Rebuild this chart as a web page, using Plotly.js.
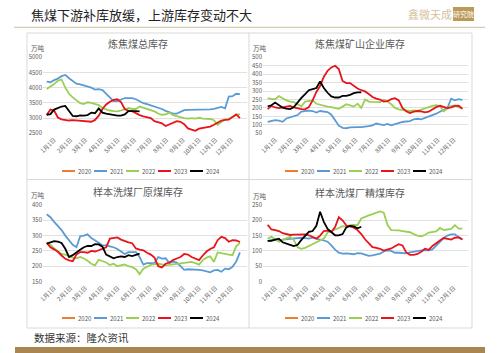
<!DOCTYPE html>
<html><head><meta charset="utf-8">
<script src="https://cdn.plot.ly/plotly-3.0.1.min.js"></script>
<style>html,body{margin:0;padding:0;background:#fff;}#chart{width:499px;height:353px;}</style>
</head><body><div id="chart"></div>
<script>
// ---------- data ----------
const years = ["2020", "2021", "2022", "2023", "2024"];
const yearColors = ["#ED7D31", "#5B9BD5", "#9BCF53", "#E8131B", "#000000"];
const monthLabels = ["1月1日","2月1日","3月1日","4月1日","5月1日","6月1日","7月1日","8月1日","9月1日","10月1日","11月1日","12月1日"];
const monthWeeks = [0, 4.43, 8.43, 12.86, 17.14, 21.57, 25.86, 30.29, 34.71, 39, 43.43, 47.71];
const chartTitles = ["炼焦煤总库存", "炼焦煤矿山企业库存", "样本洗煤厂原煤库存", "样本洗煤厂精煤库存"];
const unitLabel = "万吨";
const pageTitle = "焦煤下游补库放缓，上游库存变动不大";
const sourceText = "数据来源：隆众资讯";
const logoText = "鑫微天成";
const logoBoxText = "研究院";

// 炼焦煤总库存 (weekly)
const total2020 = [];
const total2021 = [4200,4180,4250,4300,4380,4420,4310,4230,4130,4110,4080,4040,4000,3940,3950,3920,3800,3650,3560,3560,3600,3660,3660,3660,3620,3560,3490,3460,3420,3380,3350,3300,3240,3190,3150,3150,3200,3260,3270,3270,3280,3290,3280,3280,3290,3300,3340,3370,3320,3710,3720,3800,3790];
const total2022 = [3960,4040,4120,4230,4270,4000,3800,3680,3580,3490,3460,3520,3500,3470,3430,3330,3280,3250,3230,3220,3250,3300,3330,3300,3300,3380,3340,3310,3270,3220,3150,3110,3120,3180,3100,3060,3020,3000,2980,3000,2980,3010,2980,2980,2970,2930,2780,2870,2950,2980,3050,3100,3130];
const total2023 = [3100,3280,3250,3020,2960,2940,2920,2930,2920,2920,2910,2890,2880,2940,3080,3300,3450,3540,3600,3620,3530,3300,3240,3230,3160,3100,3060,3040,3000,2900,2860,2830,2740,2800,2850,2900,2880,2800,2660,2610,2580,2650,2680,2700,2720,2780,2850,2920,2940,2950,3040,3120,3000];
const total2024 = [3110,3130,3280,3330,3380,3400,3250,3070,3060,3090,3080,3100,3180,3160,3320,3180,3150,3130,3090,3080,3080,3120,3230,3240,3230,3220];

// 炼焦煤矿山企业库存
const mine2020 = [];
const mine2021 = [117,122,128,125,118,138,145,150,158,178,183,184,182,173,182,180,176,160,125,95,82,80,85,87,87,86,88,92,97,108,103,99,106,97,104,112,117,120,122,133,136,133,141,146,154,166,178,190,200,255,245,252,248];
const mine2022 = [258,252,252,270,258,245,238,235,222,210,238,242,245,225,218,213,208,205,198,195,208,222,215,208,225,200,250,238,236,235,235,248,238,222,200,192,188,186,182,185,183,190,198,205,212,216,210,180,195,212,215,205,195];
const mine2023 = [193,212,203,199,203,207,212,203,197,193,192,205,245,295,330,385,420,440,450,430,360,347,347,330,315,305,298,283,265,255,250,238,240,252,258,245,200,180,170,178,182,180,174,178,192,205,213,205,199,204,212,213,196];
const mine2024 = [209,216,232,215,202,196,193,205,236,260,282,305,312,318,357,318,290,268,262,262,272,272,278,288,292,292];

// 样本洗煤厂原煤库存
const raw2020 = [];
const raw2021 = [370,360,345,332,318,300,285,270,262,298,300,304,292,285,277,268,268,265,262,256,249,240,246,246,246,230,205,210,210,210,230,225,226,210,215,212,200,188,190,190,190,188,186,184,180,186,188,182,192,190,198,215,245];
const raw2022 = [276,270,258,248,240,238,232,228,226,230,225,218,208,203,221,216,212,204,208,200,203,206,200,197,190,174,192,198,204,207,208,206,203,204,206,208,209,210,212,214,210,205,220,228,232,214,245,242,240,238,236,265,276];
const raw2023 = [276,262,255,247,235,224,219,216,238,246,246,244,250,248,252,257,262,290,291,294,287,282,278,275,258,254,252,244,238,228,200,196,208,212,220,225,230,240,238,230,225,220,235,248,256,262,285,296,292,280,285,284,279];
const raw2024 = [274,279,282,280,276,257,230,236,246,254,262,266,266,272,271,264,238,231,226,230,232,230,236,233,236,241];

// 样本洗煤厂精煤库存
const clean2020 = [];
const clean2021 = [132,136,137,134,137,138,139,141,143,143,142,140,143,141,137,134,130,118,104,94,91,92,91,89,93,92,88,84,85,89,91,98,102,100,94,94,93,92,95,97,101,102,102,102,105,118,130,142,150,154,154,144,137];
const clean2022 = [140,146,138,130,136,142,146,135,112,107,110,116,122,129,134,140,160,166,170,175,181,179,184,185,184,206,212,216,220,225,229,225,185,168,168,167,165,162,161,155,150,148,152,160,163,164,175,168,170,172,184,173,173];
const clean2023 = [185,170,168,165,158,154,152,153,154,154,154,151,146,140,150,165,166,162,178,210,200,183,180,176,168,155,138,124,112,110,107,101,104,108,115,122,118,95,87,87,90,97,107,103,116,126,134,142,140,137,143,144,137];
const clean2024 = [133,133,137,140,128,123,120,116,120,136,148,162,165,182,228,195,172,160,151,151,155,177,182,180,174,179];

const panelSeries = [
  [total2020, total2021, total2022, total2023, total2024],
  [mine2020, mine2021, mine2022, mine2023, mine2024],
  [raw2020, raw2021, raw2022, raw2023, raw2024],
  [clean2020, clean2021, clean2022, clean2023, clean2024]
];

// ---------- layout helpers ----------
const W = 499, H = 353;
const px = v => v / W;
const py = v => 1 - v / H;
const FONT = "Noto Sans CJK SC, Noto Sans, sans-serif";
const GREY = "#595959";
const labelShift = 2; // rotated month labels sit a little right of the category start, as in the source

const panelGeo = [
  {xd: [43, 247], yd: [56.4, 134.2], xr: [-1, 53.9], yr: [2470, 5030], dtick: 500, titleX: 138, titleY: 43, unitX: 37.5, unitY: 48, legX: 62, legY: 171},
  {xd: [263, 468], yd: [56.4, 134.2], xr: [-1.25, 53.5], yr: [44.7, 505.3], dtick: 50, titleX: 360, titleY: 43, unitX: 259.5, unitY: 48, legX: 285, legY: 171},
  {xd: [43, 247], yd: [204.1, 282.4], xr: [-1, 53.9], yr: [147, 403], dtick: 50, titleX: 138, titleY: 191.5, unitX: 37.5, unitY: 195.5, legX: 62, legY: 318},
  {xd: [263, 468], yd: [204.1, 282.4], xr: [-1.25, 53.5], yr: [-3, 253], dtick: 50, titleX: 360, titleY: 192, unitX: 259.5, unitY: 196, legX: 285, legY: 318}
];

const traces = [];
const layout = {
  width: W, height: H,
  margin: {l: 0, r: 0, t: 0, b: 0},
  paper_bgcolor: "#ffffff", plot_bgcolor: "rgba(0,0,0,0)",
  showlegend: false,
  font: {family: FONT, color: GREY},
  annotations: [], shapes: []
};

panelGeo.forEach((g, i) => {
  const n = i + 1;
  const xa = "xaxis" + (n === 1 ? "" : n), ya = "yaxis" + (n === 1 ? "" : n);
  const xr = "x" + (n === 1 ? "" : n), yr = "y" + (n === 1 ? "" : n);
  layout[xa] = {
    domain: [px(g.xd[0]), px(g.xd[1])], range: g.xr, anchor: yr,
    tickmode: "array", tickvals: monthWeeks.map(w => w + labelShift), ticktext: monthLabels, tickangle: -45,
    tickfont: {size: 6, color: GREY, family: FONT},
    showgrid: false, zeroline: false, showline: false, ticks: "", fixedrange: true
  };
  layout[ya] = {
    domain: [py(g.yd[1]), py(g.yd[0])], range: g.yr, anchor: xr,
    tick0: 0, dtick: g.dtick, tickfont: {size: 6, color: GREY, family: FONT},
    showgrid: true, gridcolor: "#d9d9d9", gridwidth: 0.8,
    zeroline: false, showline: false, ticks: "", fixedrange: true
  };
  panelSeries[i].forEach((vals, k) => {
    if (!vals.length) return;
    traces.push({
      type: "scatter", mode: "lines", name: years[k],
      x: vals.map((_, j) => j), y: vals, xaxis: xr, yaxis: yr,
      line: {color: yearColors[k], width: 1.8}, hoverinfo: "skip"
    });
  });
  layout.annotations.push({
    text: chartTitles[i], xref: "paper", yref: "paper", x: px(g.titleX), y: py(g.titleY),
    xanchor: "center", yanchor: "middle", showarrow: false,
    font: {size: 10, color: GREY, family: FONT}
  });
  layout.annotations.push({
    text: unitLabel, xref: "paper", yref: "paper", x: px(g.unitX), y: py(g.unitY),
    xanchor: "center", yanchor: "middle", showarrow: false,
    font: {size: 6.5, color: GREY, family: FONT}
  });
  years.forEach((yName, k) => {
    const x0 = g.legX + k * 32;
    layout.shapes.push({type: "line", xref: "paper", yref: "paper",
      x0: px(x0), x1: px(x0 + 13), y0: py(g.legY), y1: py(g.legY),
      line: {color: yearColors[k], width: 2}});
    layout.annotations.push({text: yName, xref: "paper", yref: "paper",
      x: px(x0 + 14), y: py(g.legY), xanchor: "left", yanchor: "middle", showarrow: false,
      font: {size: 6, color: GREY, family: FONT}});
  });
});

const frame = {color: "#d9d9d9", width: 1};
layout.shapes.push(
  {type: "rect", xref: "paper", yref: "paper", x0: px(27), x1: px(472), y0: py(328), y1: py(33), line: frame},
  {type: "line", xref: "paper", yref: "paper", x0: px(249), x1: px(249), y0: py(328), y1: py(33), line: frame},
  {type: "line", xref: "paper", yref: "paper", x0: px(27), x1: px(472), y0: py(179.5), y1: py(179.5), line: frame},
  {type: "line", xref: "paper", yref: "paper", x0: px(14), x1: px(485), y0: py(27.3), y1: py(27.3), line: {color: "#d6ccb4", width: 1.2}},
  {type: "rect", xref: "paper", yref: "paper", x0: px(15), x1: px(485), y0: 0, y1: py(347), fillcolor: "#a9854f", line: {width: 0}},
  {type: "rect", xref: "paper", yref: "paper", x0: px(453), x1: px(474), y0: py(21), y1: py(7), fillcolor: "#bb9a58", line: {width: 0}}
);

layout.annotations.push(
  {text: pageTitle, xref: "paper", yref: "paper", x: px(29), y: py(14.5), xanchor: "left", yanchor: "middle",
   showarrow: false, font: {size: 13, color: "#222222", family: FONT}},
  {text: logoText, xref: "paper", yref: "paper", x: px(430), y: py(14), xanchor: "center", yanchor: "middle",
   showarrow: false, font: {size: 11, color: "#d6c29c", family: FONT}},
  {text: logoBoxText, xref: "paper", yref: "paper", x: px(463.5), y: py(14), xanchor: "center", yanchor: "middle",
   showarrow: false, font: {size: 7, color: "#ffffff", family: FONT}},
  {text: sourceText, xref: "paper", yref: "paper", x: px(32), y: py(337.5), xanchor: "left", yanchor: "middle",
   showarrow: false, font: {size: 10.5, color: "#333333", family: FONT}}
);

Plotly.newPlot("chart", traces, layout, {staticPlot: true, displayModeBar: false});
</script>
</body></html>
